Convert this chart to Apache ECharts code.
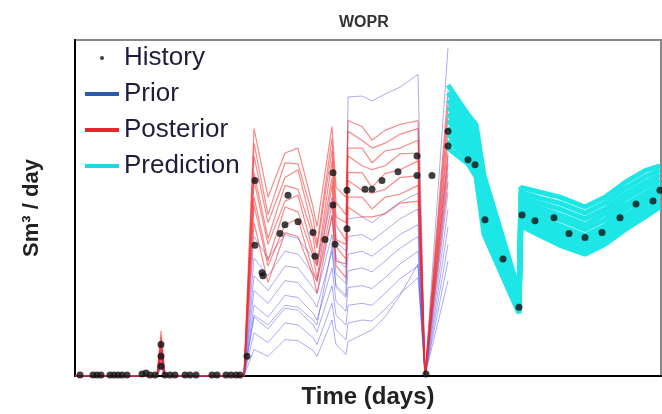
<!DOCTYPE html>
<html>
<head>
<meta charset="utf-8">
<script src="https://cdn.jsdelivr.net/npm/echarts@6/dist/echarts.min.js"></script>
<style>
html, body { margin: 0; padding: 0; background: #fff; }
#chart { width: 662px; height: 414px; }
</style>
</head>
<body>
<div id="chart"></div>
<script>
// time nodes (days) of the history-matching runs
const days = [0, 328, 344, 360, 676, 716, 772, 840, 892, 952, 968, 1028, 1044, 1084, 1092, 1148, 1188, 1240, 1300, 1372, 1400, 1492];
// time nodes (days) of the forecast runs
const predDays = [1492, 1572, 1604, 1636, 1776, 1784, 1860, 1940, 2040, 2120, 2200, 2280, 2340];

// prior ensemble (Sm3/day)
const prior1 = [0, 0, 37, 0, 0, 142, 120, 144, 140, 120, 112, 182, 137, 127, 160, 162, 156, 166, 177, 186, 0, 227];
const prior2 = [0, 0, 32, 0, 0, 120, 102, 127, 124, 104, 97, 162, 120, 110, 142, 144, 138, 148, 160, 170, 0, 207];
const prior3 = [0, 0, 27, 0, 0, 102, 87, 112, 110, 90, 84, 144, 104, 94, 124, 127, 122, 132, 144, 154, 0, 187];
const prior4 = [0, 0, 24, 0, 0, 87, 74, 97, 95, 77, 70, 127, 90, 80, 107, 110, 106, 117, 130, 142, 0, 170];
const prior5 = [0, 0, 20, 0, 0, 72, 60, 82, 80, 64, 57, 110, 76, 66, 90, 92, 89, 100, 114, 127, 0, 152];
const prior6 = [0, 0, 16, 0, 0, 60, 48, 69, 67, 52, 45, 92, 62, 52, 72, 74, 72, 84, 99, 112, 0, 134];
const prior7 = [0, 0, 12, 0, 0, 44, 34, 54, 52, 39, 32, 74, 47, 37, 54, 57, 56, 68, 84, 100, 0, 117];
const prior8 = [0, 0, 8, 0, 0, 27, 20, 37, 36, 26, 20, 57, 32, 22, 35, 42, 47, 60, 82, 114, 0, 97];
const prior9 = [0, 0, 10, 0, 0, 62, 52, 72, 70, 57, 52, 132, 92, 82, 284, 285, 280, 287, 294, 307, 0, 334];

// posterior ensemble (Sm3/day)
const post1 = [0, 0, 46, 0, 0, 252, 182, 227, 232, 172, 152, 254, 192, 182, 260, 254, 240, 250, 256, 260, 0, 290];
const post2 = [0, 0, 40, 0, 0, 237, 164, 217, 216, 162, 134, 242, 177, 164, 249, 240, 232, 237, 246, 252, 0, 276];
const post3 = [0, 0, 34, 0, 0, 224, 156, 202, 210, 148, 130, 230, 162, 156, 232, 232, 217, 229, 232, 240, 0, 264];
const post4 = [0, 0, 30, 0, 0, 207, 140, 194, 190, 142, 114, 219, 154, 138, 224, 214, 210, 214, 226, 227, 0, 250];
const post5 = [0, 0, 26, 0, 0, 199, 134, 178, 184, 127, 112, 202, 139, 134, 207, 207, 192, 206, 210, 219, 0, 240];
const post6 = [0, 0, 22, 0, 0, 182, 117, 172, 167, 122, 99, 194, 132, 119, 199, 189, 186, 190, 202, 204, 0, 224];
const post7 = [0, 0, 18, 0, 0, 174, 112, 154, 160, 107, 96, 175, 117, 114, 182, 182, 170, 182, 185, 194, 0, 216];
const post8 = [0, 0, 14, 0, 0, 156, 95, 146, 142, 102, 84, 164, 112, 100, 172, 162, 162, 165, 176, 178, 0, 198];

// prediction ensemble (Sm3/day)
const pred1 = [296, 266, 256, 204, 86, 192, 187, 182, 172, 182, 197, 209, 214];
const pred2 = [288, 260, 250, 197, 83, 187, 181, 176, 166, 176, 191, 203, 209];
const pred3 = [281, 254, 244, 191, 80, 182, 176, 170, 160, 170, 185, 197, 204];
const pred4 = [274, 249, 238, 184, 77, 177, 171, 164, 154, 165, 180, 192, 199];
const pred5 = [267, 243, 232, 177, 75, 173, 166, 159, 149, 159, 174, 186, 194];
const pred6 = [260, 238, 226, 170, 72, 169, 161, 153, 143, 153, 169, 181, 189];
const pred7 = [253, 232, 221, 163, 70, 165, 156, 148, 138, 148, 163, 176, 185];
const pred8 = [246, 227, 215, 156, 68, 161, 152, 143, 133, 143, 158, 171, 180];
const pred9 = [239, 222, 209, 150, 66, 157, 147, 138, 128, 138, 153, 166, 176];
const pred10 = [232, 216, 203, 144, 64, 153, 143, 133, 124, 134, 149, 162, 172];

// observed rates
const histDays = [20, 72, 88, 104, 140, 156, 172, 188, 208, 268, 284, 300, 320, 344, 344, 344, 360, 380, 400, 440, 460, 484, 548, 568, 604, 624, 644, 660,
    688, 720, 720, 748, 752, 820, 840, 852, 892, 952, 960, 1000, 1032, 1032, 1040, 1088, 1088, 1160, 1188, 1228, 1292, 1368, 1368, 1404, 1428, 1492, 1492,
    1572, 1600, 1640, 1712, 1776, 1788, 1840, 1916, 1976, 2040, 2108, 2180, 2244, 2312, 2340];
const histRate = [1, 1, 1, 1, 1, 1, 1, 1, 1, 2, 3, 1, 1, 10, 20, 32, 1, 1, 1, 1, 1, 1, 1, 1, 1, 1, 1, 1,
    20, 199, 133, 105, 102, 145, 154, 184, 157, 146, 122, 139, 207, 174, 134, 189, 150, 190, 190, 199, 208, 224, 204, 2, 204, 249, 234,
    220, 215, 159, 119, 70, 164, 158, 161, 145, 141, 146, 161, 175, 178, 189];

const priorRuns = [prior1, prior2, prior3, prior4, prior5, prior6, prior7, prior8, prior9];
const postRuns = [post1, post2, post3, post4, post5, post6, post7, post8];
const predRuns = [pred1, pred2, pred3, pred4, pred5, pred6, pred7, pred8, pred9, pred10];

const font = 'Liberation Sans, Arial, sans-serif';

function runSeries(name, xs, ys, color, width, opacity) {
    return {
        name: name,
        type: 'line',
        data: xs.map((x, i) => [x, ys[i]]),
        symbol: 'none',
        silent: true,
        lineStyle: { color: color, width: width, opacity: opacity },
        itemStyle: { color: color }
    };
}

let series = [];
priorRuns.forEach(r => series.push(runSeries('Prior', days, r, '#4444e6', 1, 0.45)));
postRuns.forEach(r => series.push(runSeries('Posterior', days, r, '#f22a2a', 1.2, 0.55)));
predRuns.forEach(r => series.push(runSeries('Prediction', predDays, r, '#1de6e6', 5, 1)));
series.push({
    name: 'History',
    type: 'scatter',
    data: histDays.map((x, i) => [x, histRate[i]]),
    symbolSize: 7,
    itemStyle: { color: '#111' },
    z: 5
});

const chart = echarts.init(document.getElementById('chart'), null, { renderer: 'canvas' });
chart.setOption({
    animation: false,
    backgroundColor: '#fff',
    title: {
        text: 'WOPR',
        left: 334,
        top: 10,
        textStyle: { fontFamily: font, fontSize: 16, fontWeight: 'bold', color: '#333' }
    },
    grid: { left: 75, right: 1, top: 40, bottom: 32, show: true, borderColor: '#888', borderWidth: 2 },
    legend: {
        orient: 'vertical',
        left: 80,
        top: 40,
        itemWidth: 34,
        itemHeight: 4,
        itemGap: 10,
        textStyle: { fontFamily: font, fontSize: 26, color: '#1e1e3c' },
        data: [
            { name: 'History', icon: 'circle', itemStyle: { color: '#111' } },
            { name: 'Prior', icon: 'rect', itemStyle: { color: '#2b5cab' } },
            { name: 'Posterior', icon: 'rect', itemStyle: { color: '#e8242c' } },
            { name: 'Prediction', icon: 'rect', itemStyle: { color: '#22d4e6' } }
        ]
    },
    xAxis: {
        type: 'value',
        min: 0,
        max: 2344,
        name: 'Time (days)',
        nameLocation: 'middle',
        nameGap: 9,
        nameTextStyle: { fontFamily: font, fontSize: 24, fontWeight: 'bold', color: '#222', verticalAlign: 'top' },
        axisLine: { lineStyle: { color: '#000', width: 2 } },
        axisTick: { show: false },
        axisLabel: { show: false },
        splitLine: { show: false }
    },
    yAxis: {
        type: 'value',
        min: 0,
        max: 342,
        name: 'Sm³ / day',
        nameLocation: 'middle',
        nameGap: 32,
        nameTextStyle: { fontFamily: font, fontSize: 22, fontWeight: 'bold', color: '#222' },
        axisLine: { show: true, lineStyle: { color: '#000', width: 2 } },
        axisTick: { show: false },
        axisLabel: { show: false },
        splitLine: { show: false }
    },
    series: series
});
</script>
</body>
</html>
